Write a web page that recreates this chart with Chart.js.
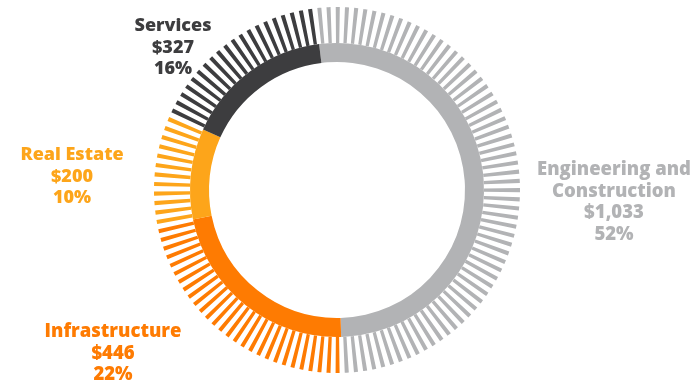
<!DOCTYPE html>
<html>
<head>
<meta charset="utf-8">
<script src="https://cdn.jsdelivr.net/npm/chart.js@4/dist/chart.umd.min.js"></script>
<style>
    html, body { margin: 0; padding: 0; background: #ffffff; }
    #wrap { width: 698px; height: 384px; position: relative; }
</style>
</head>
<body>
<div id="wrap"><canvas id="revenue-chart"></canvas></div>
<script>
// Revenue by segment ($ millions), clockwise from the top
const segments = ['Engineering and Construction', 'Infrastructure', 'Real Estate', 'Services'];
const revenue = [1033, 446, 200, 327];
const shares = [52, 22, 10, 16];
const segmentColors = ['#b2b3b5', '#fe7b02', '#fda51a', '#3d3d3f'];

// Label blocks: anchor (centre x, first baseline y), font size
const labelLayout = [
    { x: 614, y: 175, size: 18.5, lines: ['Engineering and', 'Construction'] },
    { x: 113, y: 337, size: 18.5, lines: ['Infrastructure'] },
    { x: 72, y: 160, size: 18, lines: ['Real Estate'] },
    { x: 173, y: 31, size: 18, lines: ['Services'] }
];

const TICKS_PER_TURN = 125;   // radial stripes round the whole ring
const TICK_FILL = 0.44;       // share of each slot that is painted

const total = revenue.reduce((a, b) => a + b, 0);

// Outer ring: every segment is cut into slots of gap/2, stripe, gap/2
const tickData = [];
const tickColors = [];
revenue.forEach((v, i) => {
    const n = Math.max(1, Math.round(v / total * TICKS_PER_TURN));
    const unit = v / n;
    for (let k = 0; k < n; k++) {
        tickData.push(unit * (1 - TICK_FILL) / 2, unit * TICK_FILL, unit * (1 - TICK_FILL) / 2);
        tickColors.push('rgba(0,0,0,0)', segmentColors[i], 'rgba(0,0,0,0)');
    }
});

const fmtMoney = (v) => '$' + v.toLocaleString('en-US');

const segmentLabels = {
    id: 'segmentLabels',
    afterDraw(chart) {
        const ctx = chart.ctx;
        ctx.save();
        ctx.textAlign = 'center';
        ctx.textBaseline = 'alphabetic';
        labelLayout.forEach((lab, i) => {
            const rows = lab.lines.concat([fmtMoney(revenue[i]), shares[i] + '%']);
            ctx.fillStyle = segmentColors[i];
            ctx.font = '800 ' + lab.size + 'px "Open Sans", Lato, sans-serif';
            rows.forEach((t, r) => ctx.fillText(t, lab.x, lab.y + r * 21.5));
        });
        ctx.restore();
    }
};

const ctx = document.getElementById('revenue-chart').getContext('2d');
new Chart(ctx, {
    type: 'doughnut',
    data: {
        labels: tickData.map(() => ''),
        datasets: [{
            data: tickData,
            backgroundColor: tickColors,
            borderWidth: 0,
            weight: 36
        }, {
            data: revenue,
            backgroundColor: segmentColors,
            borderWidth: 0,
            weight: 19
        }]
    },
    options: {
        responsive: true,
        maintainAspectRatio: false,
        animation: false,
        rotation: -7,
        cutout: 128,
        layout: { padding: { top: 7, bottom: 11, left: 0, right: 24 } },
        plugins: {
            legend: { display: false },
            tooltip: { enabled: false }
        }
    },
    plugins: [segmentLabels]
});
</script>
</body>
</html>
